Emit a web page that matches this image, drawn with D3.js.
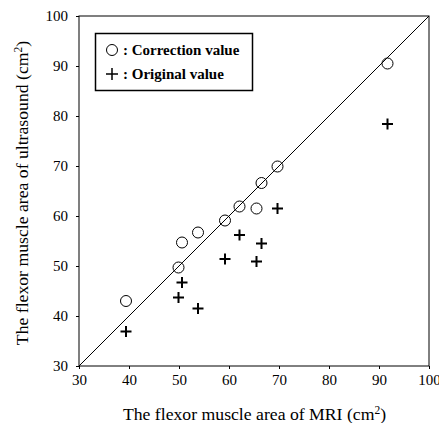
<!DOCTYPE html>
<html>
<head>
<meta charset="utf-8">
<script src="https://cdn.jsdelivr.net/npm/d3@7"></script>
<style>
  body { margin: 0; background: #fff; }
</style>
</head>
<body>
<div id="chart"></div>
<script>
// values (MRI area vs ultrasound area, cm2)
var mriValues = [39.4, 49.9, 50.6, 53.8, 59.2, 62.1, 65.5, 66.5, 69.7, 91.7];
var correctionValues = [43.0, 49.7, 54.7, 56.7, 59.1, 61.9, 61.5, 66.6, 69.9, 90.5];
var originalValues = [36.9, 43.7, 46.7, 41.5, 51.4, 56.2, 50.9, 54.5, 61.5, 78.4];
var tickValues = [30, 40, 50, 60, 70, 80, 90, 100];

var width = 439, height = 423;
var margin = {top: 16, left: 79, bottom: 57, right: 10};
var serif = "'Liberation Serif'";

var svg = d3.select("#chart").append("svg")
    .attr("width", width)
    .attr("height", height);

var x = d3.scaleLinear().domain([30, 100]).range([margin.left, width - margin.right]);
var y = d3.scaleLinear().domain([30, 100]).range([height - margin.bottom, margin.top]);

//axes
var xAxis = svg.append("g")
    .attr("transform", "translate(0," + y(30) + ")")
    .call(d3.axisBottom(x).tickValues(tickValues).tickSize(3).tickPadding(5));
var yAxis = svg.append("g")
    .attr("transform", "translate(" + x(30) + ",0)")
    .call(d3.axisLeft(y).tickValues(tickValues).tickSize(3).tickPadding(8));

[xAxis, yAxis].forEach(function (a) {
    a.select(".domain").remove();
    a.selectAll("line").attr("stroke", "#000");
    a.selectAll("text")
        .style("font-family", serif)
        .style("font-size", "15px")
        .attr("fill", "#000");
});

//frame
svg.append("rect")
    .attr("x", x(30)).attr("y", y(100))
    .attr("width", x(100) - x(30)).attr("height", y(30) - y(100))
    .attr("fill", "none").attr("stroke", "#000").attr("stroke-width", 1);

//identity line
svg.append("line")
    .attr("x1", x(30)).attr("y1", y(30))
    .attr("x2", x(100)).attr("y2", y(100))
    .attr("stroke", "#000").attr("stroke-width", 1);

//correction values as circles
svg.append("g").selectAll("circle")
    .data(mriValues)
    .enter().append("circle")
    .attr("cx", function (d) { return x(d); })
    .attr("cy", function (d, i) { return y(correctionValues[i]); })
    .attr("r", 5.5)
    .attr("fill", "none")
    .attr("stroke", "#000")
    .attr("stroke-width", 1);

//original values as crosses
svg.append("g").selectAll("path")
    .data(mriValues)
    .enter().append("path")
    .attr("d", "M-5.5,0H5.5M0,-5.5V5.5")
    .attr("transform", function (d, i) { return "translate(" + x(d) + "," + y(originalValues[i]) + ")"; })
    .attr("stroke", "#000")
    .attr("stroke-width", 2)
    .attr("fill", "none");

//legend
var legend = svg.append("g");
legend.append("rect")
    .attr("x", 95.5).attr("y", 33.5).attr("width", 157).attr("height", 57)
    .attr("fill", "#fff").attr("stroke", "#000").attr("stroke-width", 1.5);
legend.append("circle")
    .attr("cx", 112).attr("cy", 50).attr("r", 5.5)
    .attr("fill", "none").attr("stroke", "#000");
legend.append("path")
    .attr("d", "M106,74H118M112,68V80")
    .attr("stroke", "#000").attr("stroke-width", 1.5);
legend.append("text").attr("x", 123).attr("y", 55)
    .style("font-family", serif).style("font-size", "15px").style("font-weight", "bold")
    .text(": Correction value");
legend.append("text").attr("x", 123).attr("y", 79)
    .style("font-family", serif).style("font-size", "15px").style("font-weight", "bold")
    .text(": Original value");

//axis titles
var xt = svg.append("text")
    .attr("x", 254.5).attr("y", 420)
    .attr("text-anchor", "middle")
    .style("font-family", serif).style("font-size", "17.7px");
xt.append("tspan").text("The flexor muscle area of MRI (cm");
xt.append("tspan").attr("dy", -6).style("font-size", "11.5px").text("2");
xt.append("tspan").attr("dy", 6).text(")");

var yt = svg.append("text")
    .attr("transform", "translate(28,193) rotate(-90)")
    .attr("text-anchor", "middle")
    .style("font-family", serif).style("font-size", "17.7px");
yt.append("tspan").text("The flexor muscle area of ultrasound (cm");
yt.append("tspan").attr("dy", -6).style("font-size", "11.5px").text("2");
yt.append("tspan").attr("dy", 6).text(")");
</script>
</body>
</html>
